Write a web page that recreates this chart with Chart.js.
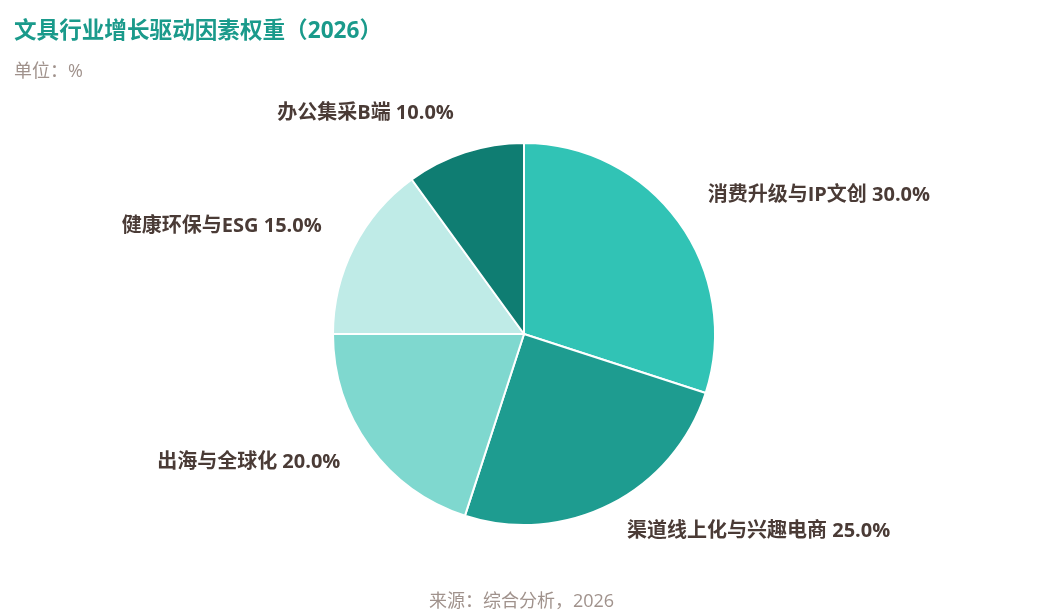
<!DOCTYPE html>
<html>
<head>
<meta charset="utf-8">
<script src="https://cdn.jsdelivr.net/npm/chart.js@4"></script>
<style>
  html, body { margin: 0; padding: 0; background: #ffffff; }
  body { width: 1043px; height: 613px; position: relative; overflow: hidden;
         font-family: "Open Sans", "Noto Sans CJK SC", sans-serif; }
  #title { position: absolute; left: 14px; top: 14px; font-size: 22.6px; font-weight: 700;
           color: #1a9a8b; line-height: 32px; white-space: nowrap; }
  #subtitle { position: absolute; left: 14px; top: 57px; font-size: 18px; color: #a0928c;
              line-height: 26px; white-space: nowrap; }
  #source { position: absolute; left: 0; width: 1043px; top: 587px; text-align: center;
            font-size: 18px; color: #a0928c; line-height: 26px; white-space: nowrap; }
  #wrap { position: absolute; left: 0; top: 0; width: 1043px; height: 613px; }
</style>
</head>
<body>
<div id="wrap"><canvas id="c"></canvas></div>
<div id="title">文具行业增长驱动因素权重（2026）</div>
<div id="subtitle">单位：%</div>
<div id="source">来源：综合分析，2026</div>
<script>
const categories = ["消费升级与IP文创", "渠道线上化与兴趣电商", "出海与全球化", "健康环保与ESG", "办公集采B端"];
const weights = [30.0, 25.0, 20.0, 15.0, 10.0];
const sliceColors = ["#31c3b5", "#1e9c90", "#7fd8cf", "#bfebe7", "#0f7d72"];

const outsideLabels = {
  id: 'outsideLabels',
  afterDatasetsDraw(chart) {
    const ctx = chart.ctx;
    const meta = chart.getDatasetMeta(0);
    ctx.save();
    ctx.font = 'bold 20px "Open Sans", "Noto Sans CJK SC", sans-serif';
    ctx.fillStyle = '#4a3b36';
    ctx.textBaseline = 'middle';
    meta.data.forEach((arc, i) => {
      const p = arc.getProps(['x', 'y', 'startAngle', 'endAngle', 'outerRadius'], true);
      const mid = (p.startAngle + p.endAngle) / 2;
      const r = p.outerRadius + 36;
      const cx = Math.cos(mid), cy = Math.sin(mid);
      const x = p.x + cx * r;
      const y = p.y + cy * r - 5;
      ctx.textAlign = cx >= 0 ? 'left' : 'right';
      ctx.fillText(categories[i] + ' ' + weights[i].toFixed(1) + '%', x, y);
    });
    ctx.restore();
  }
};

new Chart(document.getElementById('c'), {
  type: 'pie',
  data: {
    labels: categories,
    datasets: [{
      data: weights,
      backgroundColor: sliceColors,
      borderColor: '#ffffff',
      borderWidth: 2,
      radius: 191
    }]
  },
  options: {
    responsive: true,
    maintainAspectRatio: false,
    animation: false,
    devicePixelRatio: 1,
    layout: { padding: { top: 100, bottom: 45, left: 5, right: 0 } },
    plugins: {
      legend: { display: false },
      tooltip: { enabled: false },
      title: { display: false }
    }
  },
  plugins: [outsideLabels]
});
</script>
</body>
</html>
